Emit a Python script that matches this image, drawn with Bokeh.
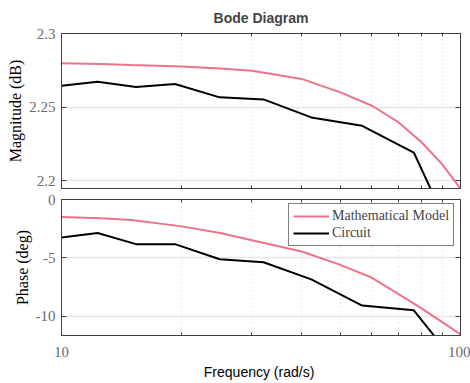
from bokeh.plotting import figure
from bokeh.models import (Range1d, FixedTicker, CustomJSTickFormatter, LinearAxis, LogAxis,
                          Legend, LegendItem)
from bokeh.layouts import column
from bokeh.embed import file_html
from bokeh.resources import INLINE

# ---- data ----
model_freq = [10, 12.5, 15, 20, 25, 30, 40, 50, 60, 70, 80, 90, 100]
model_mag = [2.2798, 2.2794, 2.2787, 2.2776, 2.2762, 2.2748, 2.2692, 2.2601, 2.2510,
             2.2397, 2.2261, 2.2113, 2.1948]
model_phase = [-1.49, -1.61, -1.75, -2.30, -2.87, -3.48, -4.45, -5.60, -6.70,
               -8.10, -9.34, -10.49, -11.55]

circ_freq = [10, 12.32, 15.37, 19.25, 24.92, 32.09, 42.27, 56.7, 76.38, 100]
circ_mag = [2.2646, 2.2673, 2.2637, 2.2658, 2.2567, 2.2553, 2.2431, 2.2374, 2.2193, 2.151]
circ_phase = [-3.25, -2.87, -3.82, -3.82, -5.11, -5.37, -6.84, -9.08, -9.48, -14.5]

x_major = [10, 100]
x_minor = [20, 30, 40, 50, 60, 70, 80, 90]
mag_ticks = [2.2, 2.25, 2.3]
phase_ticks = [-10, -5, 0]

PINK = "#EF7388"
FRAME = "#404040"
TICKLBL = "#6b6b6b"
SERIF = "Liberation Serif"

xfmt = CustomJSTickFormatter(code="return tick.toFixed(0);")
yfmt = CustomJSTickFormatter(code="return (Math.round(tick*1000)/1000).toString();")


def style_axis(ax, ticker, fmt=None, show_labels=True):
    ax.ticker = ticker
    if fmt is not None:
        ax.formatter = fmt
    ax.major_tick_in = 5
    ax.major_tick_out = 0
    ax.minor_tick_in = 3
    ax.minor_tick_out = 0
    ax.axis_line_color = FRAME
    ax.major_tick_line_color = FRAME
    ax.minor_tick_line_color = FRAME
    if show_labels:
        ax.major_label_text_font = SERIF
        ax.major_label_text_font_size = "15px"
        ax.major_label_text_color = TICKLBL
    else:
        ax.major_label_text_font_size = "1px"
        ax.major_label_text_color = None
        ax.major_label_standoff = 0
        ax.axis_label = None


def make_fig(yr, fh, bt, bb, title=None):
    p = figure(x_axis_type="log", x_range=Range1d(10, 100), y_range=yr,
               frame_width=399, frame_height=fh,
               min_border_left=61, min_border_right=10, min_border_top=bt, min_border_bottom=bb,
               output_backend="svg", toolbar_location=None, title=title)
    p.outline_line_color = FRAME
    p.background_fill_color = "white"
    p.border_fill_color = "white"
    return p


# ---------- magnitude ----------
p1 = make_fig(Range1d(2.1949, 2.3), 155, 33, 1, title="Bode Diagram")
p1.title.text_font = "Liberation Sans"
p1.title.text_font_style = "bold"
p1.title.text_font_size = "14px"
p1.title.align = "center"
p1.title.standoff = 15

xt = FixedTicker(ticks=x_major, minor_ticks=x_minor)
yt1 = FixedTicker(ticks=mag_ticks, minor_ticks=[])

style_axis(p1.xaxis[0], xt, xfmt, show_labels=False)
style_axis(p1.yaxis[0], yt1, yfmt)
p1.yaxis[0].axis_label = "Magnitude (dB)"
p1.yaxis[0].major_label_standoff = 6
p1.yaxis[0].axis_label_standoff = 2
p1.yaxis[0].axis_label_text_font = SERIF
p1.yaxis[0].axis_label_text_font_size = "16px"
p1.yaxis[0].axis_label_text_font_style = "normal"
p1.yaxis[0].axis_label_text_color = "black"

ax_top = LogAxis()
style_axis(ax_top, xt, xfmt, show_labels=False)
p1.add_layout(ax_top, "above")
ax_r1 = LinearAxis()
style_axis(ax_r1, yt1, yfmt, show_labels=False)
p1.add_layout(ax_r1, "right")

p1.xgrid.ticker = xt
p1.xgrid.grid_line_color = None
p1.xgrid.minor_grid_line_color = "#d4d4d4"
p1.xgrid.minor_grid_line_dash = "1 3"
p1.ygrid.ticker = yt1
p1.ygrid.grid_line_color = "#e6e6e6"
p1.ygrid.grid_line_width = 1.5

p1.line(model_freq, model_mag, line_color=PINK, line_width=2)
p1.line(circ_freq, circ_mag, line_color="black", line_width=2)

# ---------- phase ----------
p2 = make_fig(Range1d(-11.64, 0), 136, 10, 48)
yt2 = FixedTicker(ticks=phase_ticks, minor_ticks=[])
style_axis(p2.xaxis[0], xt, xfmt)
p2.xaxis[0].major_label_standoff = 11
p2.xaxis[0].axis_label = "Frequency  (rad/s)"
p2.xaxis[0].axis_label_standoff = 4
p2.xaxis[0].axis_label_text_font = "Liberation Sans"
p2.xaxis[0].axis_label_text_font_size = "14px"
p2.xaxis[0].axis_label_text_font_style = "normal"
p2.xaxis[0].axis_label_text_color = "black"

style_axis(p2.yaxis[0], yt2, yfmt)
p2.yaxis[0].axis_label = "Phase (deg)"
p2.yaxis[0].major_label_standoff = 6
p2.yaxis[0].axis_label_standoff = 2
p2.yaxis[0].axis_label_text_font = SERIF
p2.yaxis[0].axis_label_text_font_size = "16px"
p2.yaxis[0].axis_label_text_font_style = "normal"
p2.yaxis[0].axis_label_text_color = "black"

ax_top2 = LogAxis()
style_axis(ax_top2, xt, xfmt, show_labels=False)
p2.add_layout(ax_top2, "above")
ax_r2 = LinearAxis()
style_axis(ax_r2, yt2, yfmt, show_labels=False)
p2.add_layout(ax_r2, "right")

p2.xgrid.ticker = xt
p2.xgrid.grid_line_color = None
p2.xgrid.minor_grid_line_color = "#d4d4d4"
p2.xgrid.minor_grid_line_dash = "1 3"
p2.ygrid.ticker = yt2
p2.ygrid.grid_line_color = "#e6e6e6"
p2.ygrid.grid_line_width = 1.5

r1 = p2.line(model_freq, model_phase, line_color=PINK, line_width=2)
r2 = p2.line(circ_freq, circ_phase, line_color="black", line_width=2)

legend = Legend(items=[LegendItem(label="Mathematical Model", renderers=[r1]),
                       LegendItem(label="Circuit", renderers=[r2])],
                location=(227, 89))
legend.border_line_color = "black"
legend.border_line_width = 1
legend.background_fill_color = "white"
legend.background_fill_alpha = 1
legend.label_text_font = SERIF
legend.label_text_font_size = "14px"
legend.glyph_width = 36
legend.glyph_height = 16
legend.label_height = 16
legend.label_standoff = 3
legend.padding = 4
legend.spacing = 1
legend.margin = 0
p2.add_layout(legend)

layout = column(p1, p2, spacing=0)
open("out.html", "w").write(file_html(layout, INLINE))
